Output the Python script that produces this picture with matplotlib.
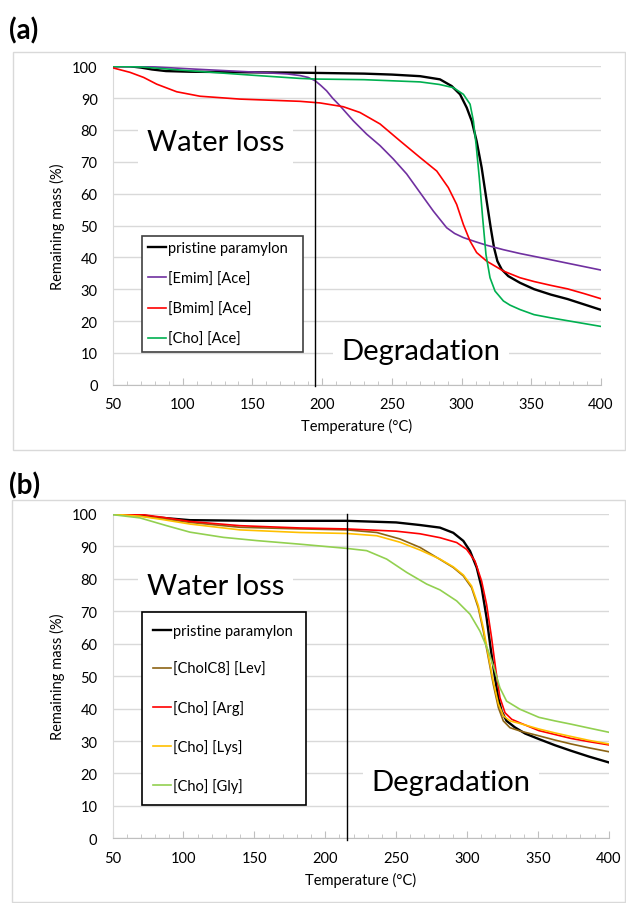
import numpy as np
import matplotlib
matplotlib.use("Agg")
import matplotlib.pyplot as plt
from matplotlib.patches import Rectangle
from matplotlib.ticker import MultipleLocator

plt.rcParams['font.family'] = ['Lato', 'DejaVu Sans']

# ---- panel (a) data: temperature (°C) / remaining mass (%)
t_a_pristine = [50, 62, 70, 78, 88, 105, 150, 184, 230, 250, 270.2, 284.5, 292.9, 298.9, 303.7, 307.3,
                310.8, 314.4, 318, 320.9, 323.3, 325.7, 328.8, 333.5, 341.9, 352, 364, 376, 388, 400]
m_a_pristine = [100, 100, 99.6, 99.0, 98.5, 98.3, 98.1, 98.0, 97.7, 97.4, 96.9, 95.9, 93.8, 91.2, 87.0, 82.8,
                76.5, 68.2, 57.7, 49.3, 43.0, 38.8, 36.2, 34.1, 32.0, 30.0, 28.3, 26.9, 25.2, 23.5]
t_a_emim = [50, 80, 105, 150, 175, 184.1, 190, 194.9, 199, 203.2, 207.5, 212.8, 222.3, 231.9, 241.5,
            251, 260.6, 270.1, 279.8, 289.3, 295, 301.3, 310, 318, 330, 341.9, 360, 380, 400]
m_a_emim = [100, 99.8, 99.2, 98.2, 97.6, 97.1, 96.5, 95.5, 94.0, 92.3, 90.0, 87.6, 82.9, 78.7, 75.1,
            70.9, 66.2, 60.4, 54.5, 49.3, 47.5, 46.2, 44.9, 43.8, 42.4, 41.2, 39.6, 37.8, 36.0]
t_a_bmim = [50, 62.2, 72, 81.3, 95.7, 112.4, 141, 184.1, 198.4, 215.2, 227.1, 241.5, 255.8, 270.1, 282.2,
            290.5, 296.5, 301.3, 306.1, 310.8, 318, 330, 341.9, 352, 364, 376, 388, 400]
m_a_bmim = [99.5, 98.1, 96.5, 94.4, 92.0, 90.6, 89.7, 89.0, 88.5, 87.3, 85.5, 81.9, 76.6, 71.4, 67.1,
            61.9, 56.6, 50.3, 45.1, 41.5, 38.8, 35.7, 33.6, 32.4, 31.2, 30.1, 28.6, 27.0]
t_a_cho = [50, 70, 105, 150, 184, 195, 230, 270.2, 284, 294.1, 301.3, 306.1, 308.5, 310.4, 312.7, 315.1,
           317.5, 320.4, 324, 330, 334.7, 341.9, 352, 364, 376, 388, 400]
m_a_cho = [100, 99.8, 98.6, 97.2, 96.2, 96.0, 95.8, 95.1, 94.3, 93.3, 91.2, 88.1, 82.8, 75.5, 65.0, 52.5,
           40.9, 33.6, 29.4, 26.3, 25.0, 23.6, 22.0, 21.0, 20.1, 19.2, 18.3]

# ---- panel (b) data
t_b_pristine = [50, 65, 80, 104.6, 150, 215, 250, 266.8, 280.9, 290.3, 297.4, 302.1, 306.8, 310.3, 313.8,
                316.6, 319.7, 322, 324.4, 327.9, 333.8, 341, 350.7, 362, 373.3, 386, 400]
m_b_pristine = [100, 100, 99.0, 98.1, 97.9, 97.9, 97.4, 96.6, 95.8, 94.2, 91.7, 88.6, 83.5, 77.3, 68.0,
                58.8, 49.5, 43.4, 39.2, 36.2, 34.2, 32.3, 30.6, 28.7, 27.0, 25.2, 23.4]
t_b_lev = [50, 69.3, 85, 104.6, 139.9, 182, 215, 236.3, 252.7, 266.8, 280.9, 290.3, 297.4, 303.2, 307.9,
           311.5, 315, 318.5, 322.1, 325.6, 330.3, 337.3, 350.7, 362, 373.3, 386, 400]
m_b_lev = [100, 99.4, 98.6, 97.4, 95.9, 95.4, 95.1, 94.3, 92.3, 89.7, 86.0, 83.5, 80.9, 77.3, 71.1,
           63.9, 55.7, 47.5, 40.3, 36.2, 34.1, 33.1, 31.6, 30.3, 29.1, 27.9, 26.7]
t_b_arg = [50, 69.3, 85, 104.6, 139.9, 182, 215, 250, 266.8, 280.9, 292.7, 299.7, 305.6, 310.3, 313.8,
           317.3, 320.4, 323.2, 326.8, 331.5, 337.3, 350.7, 362, 373.3, 386, 400]
m_b_arg = [100, 99.9, 99.0, 97.7, 96.4, 95.7, 95.4, 94.7, 93.9, 92.7, 91.2, 89.1, 85.5, 79.3, 72.1,
           61.9, 51.6, 43.4, 38.7, 36.7, 35.6, 33.2, 32.0, 30.8, 29.8, 28.8]
t_b_lys = [50, 69.3, 85, 104.6, 139.9, 182, 215, 236.3, 252.7, 266.8, 280.9, 290.3, 297.4, 303.2, 307.9,
           311.5, 315, 318.5, 322.1, 325.6, 330.3, 337.3, 350.7, 362, 373.3, 386, 400]
m_b_lys = [100, 99.3, 98.3, 96.9, 95.1, 94.3, 94.0, 93.3, 91.3, 88.9, 86.1, 83.7, 81.2, 77.8, 71.8,
           64.8, 56.5, 48.4, 41.5, 37.8, 36.2, 35.4, 33.7, 32.5, 31.4, 30.2, 29.1]
t_b_gly = [50, 69.3, 88.1, 104.6, 128.1, 151.6, 182, 215, 229.2, 243.3, 257.4, 271.5, 280.9, 292.7, 302.1,
           309.1, 315, 319.7, 323.2, 327.9, 337.3, 350.7, 362, 373.3, 386, 400]
m_b_gly = [99.8, 98.8, 96.4, 94.4, 92.8, 91.8, 90.7, 89.4, 88.7, 86.1, 82.0, 78.4, 76.6, 73.2, 69.1,
           63.9, 57.8, 51.6, 46.4, 42.3, 39.8, 37.3, 36.2, 35.2, 34.0, 32.7]

boundary_a = 195
boundary_b = 215

series_a = [(t_a_pristine, m_a_pristine, 'pristine paramylon', 'black', 1.7),
            (t_a_emim, m_a_emim, '[Emim] [Ace]', '#7030A0', 1.2),
            (t_a_bmim, m_a_bmim, '[Bmim] [Ace]', '#FF0000', 1.2),
            (t_a_cho, m_a_cho, '[Cho] [Ace]', '#00B050', 1.2)]
series_b = [(t_b_pristine, m_b_pristine, 'pristine paramylon', 'black', 1.7),
            (t_b_lev, m_b_lev, '[CholC8] [Lev]', '#8C6414', 1.2),
            (t_b_arg, m_b_arg, '[Cho] [Arg]', '#FF0000', 1.2),
            (t_b_lys, m_b_lys, '[Cho] [Lys]', '#FFC000', 1.2),
            (t_b_gly, m_b_gly, '[Cho] [Gly]', '#92D050', 1.2)]

W, H = 626, 904
fig = plt.figure(figsize=(W / 100, H / 100), dpi=100)

# outer chart frames
fig.patches.append(Rectangle((13 / W, 1 - 451 / H), 612 / W, 398 / H, transform=fig.transFigure,
                             fill=False, ec='#d9d9d9', lw=1))
fig.patches.append(Rectangle((12 / W, 1 - 903 / H), 613 / W, 402 / H, transform=fig.transFigure,
                             fill=False, ec='#d9d9d9', lw=1))
fig.text(9 / W, 1 - 31 / H, '(a)', fontsize=20, fontweight='bold', va='center')
fig.text(9 / W, 1 - 486 / H, '(b)', fontsize=20, fontweight='bold', va='center')

ax_a = fig.add_axes([113 / W, (H - 385.7) / H, 488 / W, 318.4 / H])
ax_b = fig.add_axes([112.6 / W, (H - 839.3) / H, 496.2 / W, 324.3 / H])


def style(ax):
    ax.set_xlim(50, 400)
    ax.set_ylim(0, 100)
    ax.xaxis.set_major_locator(MultipleLocator(50))
    ax.xaxis.set_minor_locator(MultipleLocator(10))
    ax.yaxis.set_major_locator(MultipleLocator(10))
    ax.grid(axis='y', color='#d9d9d9', lw=1)
    ax.set_axisbelow(True)
    for s in ['top', 'right']:
        ax.spines[s].set_visible(False)
    ax.spines['left'].set_color('#d9d9d9')
    ax.spines['bottom'].set_color('#bfbfbf')
    ax.tick_params(axis='x', which='major', direction='in', length=5, color='#bfbfbf',
                   labelsize=10.5, pad=9)
    ax.tick_params(axis='x', which='minor', direction='in', length=3, color='#bfbfbf')
    ax.tick_params(axis='y', length=0, labelsize=10.5, pad=11)
    ax.set_xlabel('Temperature (°C)', fontsize=10.5, labelpad=5)
    ax.set_ylabel('Remaining mass (%)', fontsize=10.5, labelpad=5)


for ax, series, bnd, wl, dg, bbox, ec, lsp, bpad in [
        (ax_a, series_a, boundary_a, (123.6, 76.1), (271, 10.7), (0.06, 0.104, 0.33, 0.375), '#404040', 1.1, 0.4),
        (ax_b, series_b, boundary_b, (122.6, 77.9), (288.7, 17.3), (0.0587, 0.103, 0.331, 0.594), 'black', 1.65, 0.8)]:
    style(ax)
    for t, m, lab, c, lw in series:
        ax.plot(t, m, color=c, lw=lw, label=lab, zorder=3)
    ax.text(wl[0], wl[1], 'Water loss', fontsize=21, ha='center', va='center', zorder=2,
            bbox=dict(fc='white', ec='none', pad=6))
    ax.text(dg[0], dg[1], 'Degradation', fontsize=21, ha='center', va='center', zorder=2,
            bbox=dict(fc='white', ec='none', pad=6))
    ax.axvline(bnd, ymin=-0.005, ymax=1, color='black', lw=1, zorder=4, clip_on=False)
    leg = ax.legend(loc='lower left', bbox_to_anchor=bbox, mode='expand', borderaxespad=0,
                    fontsize=10.5, handlelength=1.2, handletextpad=0.15, labelspacing=lsp,
                    borderpad=bpad, fancybox=False, framealpha=1)
    leg.get_frame().set_edgecolor(ec)
    leg.get_frame().set_linewidth(1.2)
    leg.set_zorder(5)

fig.savefig('out.png', dpi=100)
